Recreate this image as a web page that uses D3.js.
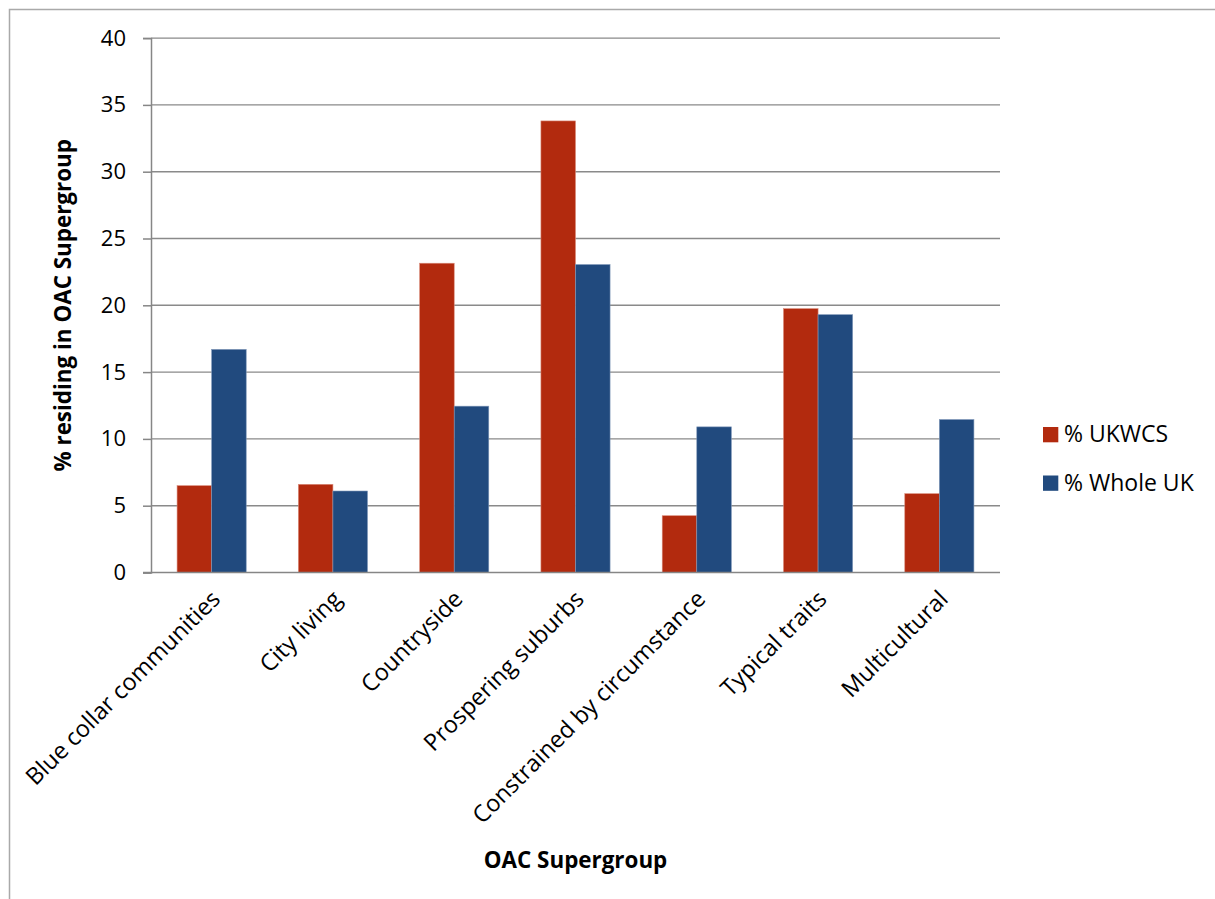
<!DOCTYPE html>
<html>
<head>
<meta charset="utf-8">
<script src="https://cdn.jsdelivr.net/npm/d3@7/dist/d3.min.js"></script>
<style>
  html, body { margin: 0; padding: 0; background: #fff; }
  svg { display: block; font-family: "Open Sans", "Liberation Sans", sans-serif; }
</style>
</head>
<body>
<svg id="chart" width="1215" height="899"></svg>
<script>
// OAC supergroups and the share of each population living in them (%)
const categories = [
  "Blue collar communities",
  "City living",
  "Countryside",
  "Prospering suburbs",
  "Constrained by circumstance",
  "Typical traits",
  "Multicultural"
];
const seriesNames = ["% UKWCS", "% Whole UK"];
const ukwcs   = [6.5, 6.6, 23.15, 33.8, 4.25, 19.75, 5.9];
const wholeUK = [16.7, 6.1, 12.45, 23.05, 10.9, 19.3, 11.45];
const yTicks  = [0, 5, 10, 15, 20, 25, 30, 35, 40];
const colors  = ["#B22A0E", "#214A7E"];

const svg = d3.select("#chart");

const plot = { left: 151, right: 1000, top: 38.1, bottom: 572.5 };

// outer frame (top and left edges visible)
svg.append("path")
  .attr("d", "M9.5,899 L9.5,9.5 L1215,9.5")
  .attr("fill", "none")
  .attr("stroke", "#a9a9a9")
  .attr("stroke-width", 1.5);

const x = d3.scaleBand()
  .domain(categories)
  .range([plot.left, plot.right])
  .paddingInner(0.43)
  .paddingOuter(0.215);

const xs = d3.scaleBand()
  .domain(seriesNames)
  .range([0, x.bandwidth()]);

const y = d3.scaleLinear()
  .domain([0, 40])
  .range([plot.bottom, plot.top]);

// horizontal gridlines
svg.append("g")
  .selectAll("line")
  .data(yTicks.filter(d => d > 0))
  .join("line")
  .attr("x1", plot.left)
  .attr("x2", plot.right)
  .attr("y1", d => y(d))
  .attr("y2", d => y(d))
  .attr("stroke", "#8a8a8a")
  .attr("stroke-width", 1.4);

// bars
const rows = categories.map((c, i) => ({ cat: c, vals: [ukwcs[i], wholeUK[i]] }));
const groups = svg.append("g")
  .selectAll("g")
  .data(rows)
  .join("g")
  .attr("transform", d => `translate(${x(d.cat)},0)`);

groups.selectAll("rect")
  .data(d => d.vals.map((v, j) => ({ name: seriesNames[j], v, j })))
  .join("rect")
  .attr("x", d => xs(d.name))
  .attr("y", d => y(d.v))
  .attr("width", xs.bandwidth())
  .attr("height", d => y(0) - y(d.v))
  .attr("fill", d => colors[d.j])
  .attr("stroke", d => d.j === 0 ? "#d98a7a" : "#7f97b8")
  .attr("stroke-width", 0.6);

// y axis
const yAxis = d3.axisLeft(y)
  .tickValues(yTicks)
  .tickSize(8)
  .tickPadding(17);

const gy = svg.append("g")
  .attr("transform", `translate(${plot.left},0)`)
  .call(yAxis);
gy.select(".domain").attr("stroke", "#868686").attr("stroke-width", 1.5);
gy.selectAll(".tick line").attr("stroke", "#868686").attr("stroke-width", 1.5);
gy.selectAll(".tick text")
  .attr("font-size", 22)
  .attr("fill", "#000")
  .attr("font-family", "'Open Sans', sans-serif");

// x axis baseline
const gx = svg.append("g")
  .attr("transform", `translate(0,${plot.bottom})`)
  .call(d3.axisBottom(x).tickSize(0).tickFormat(""));
gx.select(".domain")
  .attr("d", `M${plot.left - 8},0H${plot.right}`)
  .attr("stroke", "#868686")
  .attr("stroke-width", 1.5);

// rotated category labels
svg.append("g")
  .selectAll("text")
  .data(categories)
  .join("text")
  .attr("transform", d => `translate(${x(d) + x.bandwidth() / 2 + 10},${plot.bottom + 28}) rotate(-45)`)
  .attr("text-anchor", "end")
  .attr("font-size", 23.5)
  .attr("fill", "#000")
  .text(d => d);

// axis titles
svg.append("text")
  .attr("transform", `translate(71,${(plot.top + plot.bottom) / 2}) rotate(-90)`)
  .attr("text-anchor", "middle")
  .attr("font-size", 22.4)
  .attr("font-weight", "bold")
  .text("% residing in OAC Supergroup");

svg.append("text")
  .attr("x", (plot.left + plot.right) / 2)
  .attr("y", 868)
  .attr("text-anchor", "middle")
  .attr("font-size", 22.4)
  .attr("font-weight", "bold")
  .text("OAC Supergroup");

// legend
const legend = svg.append("g").attr("transform", "translate(1043,427)");
const items = legend.selectAll("g")
  .data(seriesNames)
  .join("g")
  .attr("transform", (d, i) => `translate(0,${i * 48.5})`);
items.append("rect")
  .attr("width", 15.3)
  .attr("height", 15.3)
  .attr("fill", (d, i) => colors[i]);
items.append("text")
  .attr("x", 21)
  .attr("y", 15)
  .attr("font-size", 23)
  .attr("fill", "#000")
  .text(d => d);
</script>
</body>
</html>
